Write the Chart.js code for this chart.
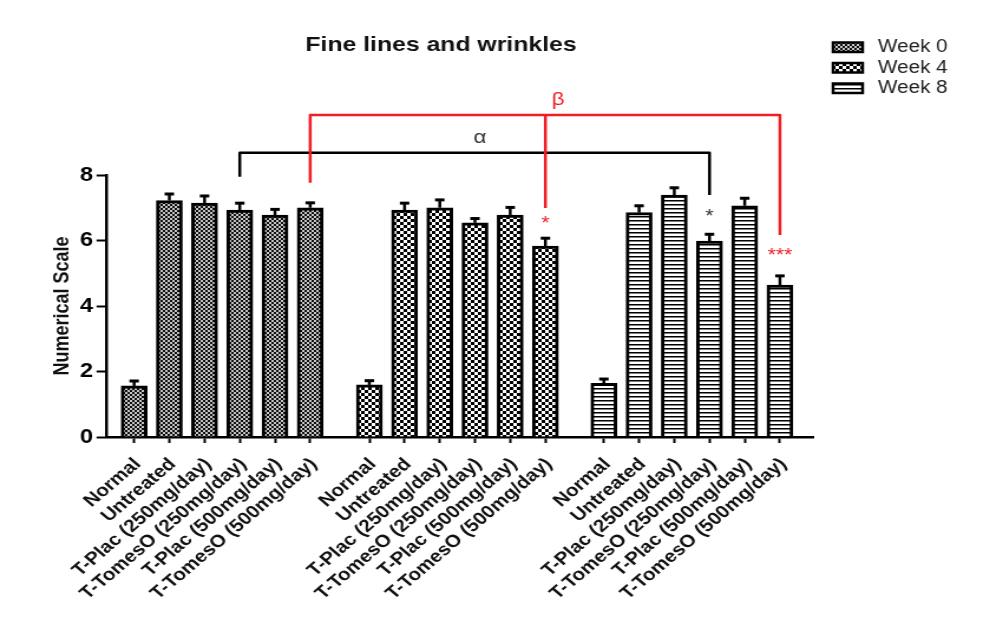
<!DOCTYPE html>
<html>
<head>
<meta charset="utf-8">
<title>Fine lines and wrinkles</title>
<script src="https://cdn.jsdelivr.net/npm/chart.js@4.4.1/dist/chart.umd.min.js"></script>
<style>
  html, body { margin: 0; padding: 0; background: #fff; overflow: hidden; }
  /* the source figure is stretched sideways, so the canvas is too */
  #wrap { width: 839px; height: 622px; transform: scaleX(1.18); transform-origin: 0 0; }
</style>
</head>
<body>
<div id="wrap"><canvas id="wrinkleChart" width="839" height="622"></canvas></div>
<script>
var categories = ['Normal', 'Untreated', 'T-Plac (250mg/day)', 'T-TomesO (250mg/day)', 'T-Plac (500mg/day)', 'T-TomesO (500mg/day)'];
var weeks = ['Week 0', 'Week 4', 'Week 8'];
var week0 = [1.56, 7.22, 7.14, 6.93, 6.78, 7.00];
var week0Err = [0.15, 0.20, 0.22, 0.21, 0.17, 0.15];
var week4 = [1.59, 6.93, 7.00, 6.54, 6.78, 5.83];
var week4Err = [0.13, 0.21, 0.24, 0.13, 0.23, 0.24];
var week8 = [1.64, 6.85, 7.39, 5.98, 7.06, 4.64];
var week8Err = [0.13, 0.21, 0.22, 0.21, 0.23, 0.28];
var yTicks = [0, 2, 4, 6, 8];

var RED = '#f21c24';
var FONT = "'Liberation Sans', Arial, sans-serif";

// where each group of six bars starts on the x axis
var groupStart = [0, 6.68, 13.34];
function xPos(g, i) { return groupStart[g] + i; }

var tickPositions = [];
groupStart.forEach(function (s, g) {
    categories.forEach(function (c, i) { tickPositions.push(xPos(g, i)); });
});

var canvas = document.getElementById('wrinkleChart');
var ctx = canvas.getContext('2d');

function makePattern(kind) {
    var c = document.createElement('canvas');
    var g = c.getContext('2d');
    if (kind === 'fine') {
        c.width = 4; c.height = 4;
        g.fillStyle = '#c4c4c4'; g.fillRect(0, 0, 4, 4);
        g.fillStyle = '#111'; g.fillRect(0, 0, 2, 2); g.fillRect(2, 2, 2, 2);
    } else if (kind === 'checker') {
        c.width = 6; c.height = 6;
        g.fillStyle = '#000'; g.fillRect(0, 0, 6, 6);
        g.fillStyle = '#fff'; g.fillRect(0, 0, 3, 3); g.fillRect(3, 3, 3, 3);
    } else {
        c.width = 4; c.height = 4;
        g.fillStyle = '#fff'; g.fillRect(0, 0, 4, 4);
        g.fillStyle = '#000'; g.fillRect(0, 0, 4, 1.5);
    }
    return ctx.createPattern(c, 'repeat');
}

function toPoints(g, values) {
    return values.map(function (v, i) { return { x: xPos(g, i), y: v }; });
}

var fills = [makePattern('fine'), makePattern('checker'), makePattern('stripes')];
var series = [week0, week4, week8];
var errs = [week0Err, week4Err, week8Err];

var datasets = weeks.map(function (w, g) {
    return {
        label: w,
        data: toPoints(g, series[g]),
        errors: errs[g],
        backgroundColor: fills[g],
        borderColor: '#000',
        borderWidth: 3,
        barThickness: 22,
        grouped: false
    };
});

// significance brackets, heights in scale units
var brackets = [
    { color: '#000', label: '\u03b1', bar: 3, level: 8.68, drops: [[0, 7.95], [2, 7.39]], labelAt: 9.13, labelShift: 0.15 },
    { color: RED, label: '\u03b2', bar: 5, level: 9.83, drops: [[0, 7.76], [1, 6.99], [2, 6.17]], labelAt: 10.29, labelShift: 0.37 }
];
var stars = [
    { group: 1, bar: 5, text: '*', color: RED, at: 6.66 },
    { group: 2, bar: 3, text: '*', color: '#333', at: 6.88 },
    { group: 2, bar: 5, text: '***', color: RED, at: 5.68 }
];

var errorBars = {
    id: 'errorBars',
    afterDatasetsDraw: function (chart) {
        var c = chart.ctx, y = chart.scales.y;
        c.save();
        c.strokeStyle = '#000';
        chart.data.datasets.forEach(function (ds, di) {
            chart.getDatasetMeta(di).data.forEach(function (bar, i) {
                var top = y.getPixelForValue(ds.data[i].y + ds.errors[i]);
                c.lineWidth = 2.5;
                c.beginPath();
                c.moveTo(bar.x, bar.y);
                c.lineTo(bar.x, top);
                c.stroke();
                c.lineWidth = 3;
                c.beginPath();
                c.moveTo(bar.x - 4, top);
                c.lineTo(bar.x + 4, top);
                c.stroke();
            });
        });
        c.restore();
    }
};

var extras = {
    id: 'extras',
    afterDraw: function (chart) {
        var c = chart.ctx, x = chart.scales.x, y = chart.scales.y;
        c.save();

        // title
        c.fillStyle = '#111';
        c.font = 'bold 21px ' + FONT;
        c.textAlign = 'center';
        c.textBaseline = 'middle';
        c.fillText('Fine lines and wrinkles', 373.7, 45);

        // legend
        c.font = '17.5px ' + FONT;
        c.textAlign = 'left';
        chart.data.datasets.forEach(function (ds, i) {
            var top = 42.5 + i * 20.5;
            c.fillStyle = ds.backgroundColor;
            c.fillRect(706, top, 25, 9.5);
            c.lineWidth = 2.5;
            c.strokeStyle = '#000';
            c.strokeRect(706, top, 25, 9.5);
            c.fillStyle = '#222';
            c.fillText(ds.label, 744, top + 5);
        });

        // brackets
        brackets.forEach(function (b) {
            var lvl = y.getPixelForValue(b.level);
            var xs = b.drops.map(function (d) { return x.getPixelForValue(xPos(d[0], b.bar)); });
            c.strokeStyle = b.color;
            c.lineWidth = 2.5;
            c.lineJoin = 'round';
            c.beginPath();
            c.moveTo(xs[0], y.getPixelForValue(b.drops[0][1]));
            c.lineTo(xs[0], lvl);
            c.lineTo(xs[xs.length - 1], lvl);
            c.lineTo(xs[xs.length - 1], y.getPixelForValue(b.drops[b.drops.length - 1][1]));
            for (var k = 1; k < b.drops.length - 1; k++) {
                c.moveTo(xs[k], lvl);
                c.lineTo(xs[k], y.getPixelForValue(b.drops[k][1]));
            }
            c.stroke();
            var mid = (xPos(b.drops[0][0], b.bar) + xPos(b.drops[b.drops.length - 1][0], b.bar)) / 2;
            c.fillStyle = b.color === '#000' ? '#333' : b.color;
            c.font = '19px ' + FONT;
            c.textAlign = 'center';
            c.textBaseline = 'middle';
            c.fillText(b.label, x.getPixelForValue(mid + b.labelShift), y.getPixelForValue(b.labelAt));
        });

        // asterisks
        c.font = '18px ' + FONT;
        c.textAlign = 'center';
        c.textBaseline = 'alphabetic';
        stars.forEach(function (s) {
            c.fillStyle = s.color;
            c.fillText(s.text, x.getPixelForValue(xPos(s.group, s.bar)), y.getPixelForValue(s.at) + 10.5);
        });
        c.restore();
    }
};

var chart = new Chart(ctx, {
    type: 'bar',
    data: { datasets: datasets },
    plugins: [errorBars, extras],
    options: {
        responsive: false,
        animation: false,
        layout: { padding: { top: 175, right: 150, left: 0, bottom: 0 } },
        plugins: {
            legend: { display: false },
            title: { display: false },
            tooltip: { enabled: false }
        },
        scales: {
            x: {
                type: 'linear',
                min: -0.8,
                max: 19.28,
                offset: false,
                afterBuildTicks: function (axis) {
                    axis.ticks = tickPositions.map(function (v) { return { value: v }; });
                },
                afterFit: function (axis) { axis.height = 185; },
                grid: { display: true, offset: false, drawOnChartArea: false, drawTicks: true, tickLength: 6, tickWidth: 2, tickColor: '#000' },
                border: { display: true, color: '#000', width: 2.5 },
                ticks: {
                    autoSkip: false,
                    minRotation: 45,
                    maxRotation: 45,
                    padding: 11,
                    labelOffset: 3,
                    color: '#111',
                    font: { family: FONT, size: 17.5, weight: 'bold' },
                    callback: function (value, index) { return categories[index % categories.length]; }
                }
            },
            y: {
                min: yTicks[0],
                max: yTicks[yTicks.length - 1],
                afterBuildTicks: function (axis) {
                    axis.ticks = yTicks.map(function (v) { return { value: v }; });
                },
                afterFit: function (axis) { axis.width = 89.8; },
                grid: { display: true, drawOnChartArea: false, drawTicks: true, tickLength: 8, tickWidth: 2, tickColor: '#000' },
                border: { display: true, color: '#000', width: 2.5 },
                ticks: {
                    padding: 3,
                    color: '#000',
                    font: { family: FONT, size: 20, weight: 'bold' }
                },
                title: {
                    display: true,
                    text: 'Numerical Scale',
                    color: '#111',
                    padding: { top: 42, bottom: 0 },
                    font: { family: FONT, size: 18, weight: 'bold' }
                }
            }
        }
    }
});
</script>
</body>
</html>
